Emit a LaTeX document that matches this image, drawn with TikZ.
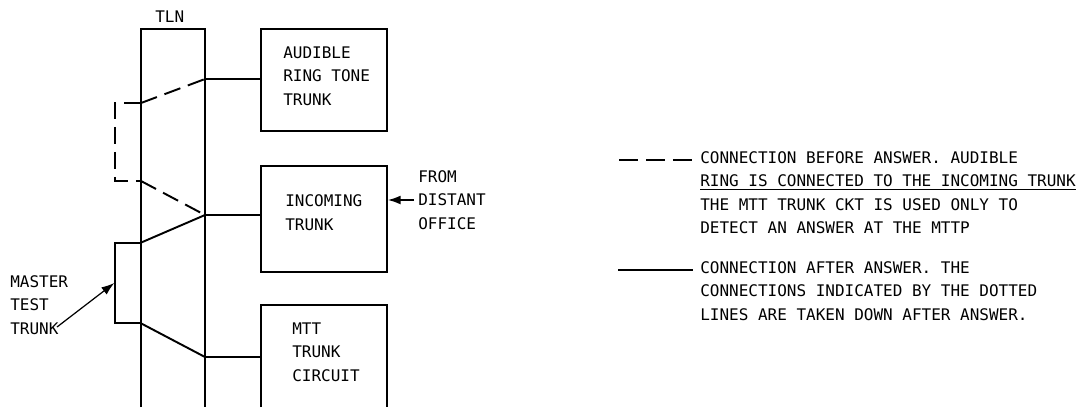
\documentclass[tikz,border=0pt]{standalone}
\usepackage{fontspec}
\setmonofont{DejaVu Sans Mono}
\usetikzlibrary{arrows.meta,positioning,calc}

\begin{document}
\begin{tikzpicture}[x=0.02cm,y=-0.02cm,>={Latex[length=2.6mm,width=1.8mm]},
  every node/.style={font=\ttfamily\fontsize{9.1}{13.3}\selectfont,inner sep=0pt},
  box/.style={draw,line width=.8pt,minimum width=2.52cm},
  txt/.style={align=left,anchor=west},
  wire/.style={line width=1.1pt},
  dashwire/.style={line width=1.1pt,dash pattern=on 0.34cm off 0.16cm}]
\useasboundingbox (0,0) rectangle (1079,407);
% TLN column
\node[txt] (tln) at (155,17) {TLN};
\draw[line width=.8pt] (141,407) -- (141,29) -- (205,29) -- (205,407);
% trunks
\node[box,minimum height=2.04cm] (ring) at (324,80) {};
\node[txt] (ringlbl) at (283,76) {AUDIBLE\\RING TONE\\TRUNK};
\node[box,minimum height=2.12cm] (inc) at (324,219) {};
\node[txt] (inclbl) at (285,212.5) {INCOMING\\TRUNK};
\draw[line width=.8pt] (261,407) |- (387,305) -- (387,407);
\node[txt] (mttlbl) at (292,352) {MTT\\TRUNK\\CIRCUIT};
\node[draw,line width=.8pt,minimum width=0.52cm,minimum height=1.6cm] (master) at (128,283) {};
% junctions on the TLN
\coordinate (ringin) at (205,79);
\coordinate (incin) at (205,215);
\coordinate (mttin) at (205,357);
\coordinate (mttw) at (261,357);
\coordinate (tlnup) at (141,103);
\coordinate (tlndn) at (141,181);
% connections
\draw[wire] (ringin) -- (ringin -| ring.west);
\draw[wire] (incin) -- (incin -| inc.west);
\draw[wire] (master.north east) -- (incin);
\draw[wire] (master.south east) -- (mttin) -- (mttw);
\draw[dashwire] (tlnup) -- (ringin);
\draw[dashwire] (tlndn) -- (incin);
\draw[dashwire] (tlnup) -- ++(-26,0) |- (tlndn);
% labels with arrows
\node[txt] (mlbl) at (10,305) {MASTER\\TEST\\TRUNK};
\coordinate (mtail) at (57,327);
\draw[->,line width=.7pt] (mtail) -- (master.west);
\node[txt] (far) at (418,200) {FROM\\DISTANT\\OFFICE};
\draw[->,wire] ($(far.west)+(-4,0)$) -- (inc.east |- far.west);
% key
\node[txt] (before) at (700,192.5) {CONNECTION BEFORE ANSWER. AUDIBLE\\\underline{RING IS CONNECTED TO THE INCOMING TRUNK}\\THE MTT TRUNK CKT IS USED ONLY TO\\DETECT AN ANSWER AT THE MTTP};
\node[txt] (after) at (700,291) {CONNECTION AFTER ANSWER. THE\\CONNECTIONS INDICATED BY THE DOTTED\\LINES ARE TAKEN DOWN AFTER ANSWER.};
\coordinate (keyd) at (619,160);
\draw[wire,dash pattern=on 0.38cm off 0.16cm] (keyd) -- ++(74,0);
\coordinate (keys) at (618,270);
\draw[wire] (keys) -- ++(75,0);
\end{tikzpicture}
\end{document}
